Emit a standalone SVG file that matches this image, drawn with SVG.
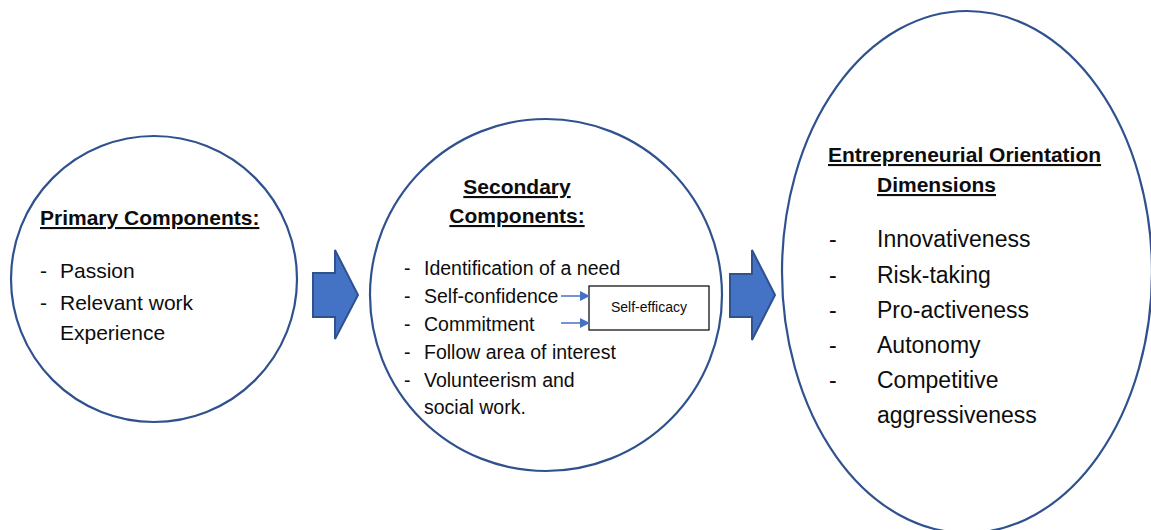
<svg xmlns="http://www.w3.org/2000/svg" width="1151" height="530" viewBox="0 0 1151 530">
<style>
.shape{fill:#ffffff;stroke:#2F528F;stroke-width:2.2}
.big{fill:#4472C4;stroke:#2F528F;stroke-width:2}
.t{font-family:"Liberation Sans",Arial,sans-serif;fill:#0d0d0d}
.h{font-weight:bold;font-size:21px;text-decoration:underline}
.p{font-size:21px}
.s{font-size:19.5px}
.e{font-size:23px}
.small{stroke:#4472C4;stroke-width:1.5;fill:none}
</style>
<defs>
<marker id="ah" markerWidth="10" markerHeight="10" refX="9" refY="5" orient="auto" markerUnits="userSpaceOnUse">
<path d="M0,0 L10,5 L0,10 Z" fill="#4472C4"/>
</marker>
</defs>
<rect width="1151" height="530" fill="#ffffff"/>
<g id="primary">
<circle class="shape" cx="154" cy="279" r="143"/>
<text class="t h" x="40" y="225">Primary Components:</text>
<text class="t p" x="40" y="278">-</text><text class="t p" x="60" y="278">Passion</text>
<text class="t p" x="40" y="310">-</text><text class="t p" x="60" y="310">Relevant work</text>
<text class="t p" x="60" y="340">Experience</text>
</g>
<g id="secondary">
<circle class="shape" cx="546" cy="295" r="176"/>
<text class="t h" x="517" y="194" text-anchor="middle">Secondary</text>
<text class="t h" x="517" y="223" text-anchor="middle">Components:</text>
<text class="t s" x="404" y="275">-</text><text class="t s" x="424" y="275">Identification of a need</text>
<text class="t s" x="404" y="303">-</text><text class="t s" x="424" y="303">Self-confidence</text>
<text class="t s" x="404" y="331">-</text><text class="t s" x="424" y="331">Commitment</text>
<text class="t s" x="404" y="359">-</text><text class="t s" x="424" y="359">Follow area of interest</text>
<text class="t s" x="404" y="387">-</text><text class="t s" x="424" y="387">Volunteerism and</text>
<text class="t s" x="424" y="414">social work.</text>
</g>
<g id="self-efficacy">
<rect x="589" y="286" width="120" height="44" fill="#ffffff" stroke="#000" stroke-width="1.2"/>
<text class="t" x="649" y="312" font-size="14" text-anchor="middle">Self-efficacy</text>
</g>
<g id="eo">
<ellipse class="shape" cx="967" cy="272" rx="185" ry="261"/>
<text class="t h" x="828" y="162">Entrepreneurial Orientation</text>
<text class="t h" x="877" y="192">Dimensions</text>
<text class="t e" x="829" y="247">-</text><text class="t e" x="877" y="247">Innovativeness</text>
<text class="t e" x="829" y="283">-</text><text class="t e" x="877" y="283">Risk-taking</text>
<text class="t e" x="829" y="318">-</text><text class="t e" x="877" y="318">Pro-activeness</text>
<text class="t e" x="829" y="353">-</text><text class="t e" x="877" y="353">Autonomy</text>
<text class="t e" x="829" y="388">-</text><text class="t e" x="877" y="388">Competitive</text>
<text class="t e" x="877" y="423">aggressiveness</text>
</g>
<g id="connectors">
<path class="big" d="M313,273 L335,273 L335,250 L358,295 L335,339 L335,317 L313,317 Z"/>
<path class="big" d="M730,274 L752,274 L752,250 L775,295 L752,340 L752,317 L730,317 Z"/>
<line class="small" x1="561" y1="296" x2="589" y2="296" marker-end="url(#ah)"/>
<line class="small" x1="561" y1="323" x2="589" y2="323" marker-end="url(#ah)"/>
</g>
</svg>
